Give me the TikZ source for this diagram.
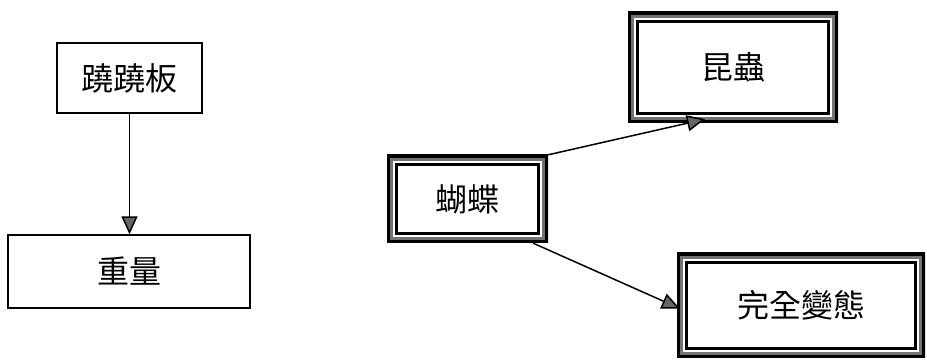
\documentclass[tikz,border=0pt]{standalone}
\usepackage{fontspec}
\newfontfamily\cjk{Noto Sans CJK TC}
\usetikzlibrary{arrows.meta}
\tikzset{
  lbl/.style={inner sep=0pt, font=\cjk\fontsize{32}{32}\selectfont},
  plainbox/.style={lbl, draw=black, line width=1.4pt},
  framebox/.style={lbl, path picture={
      \draw[black, line width=6pt] (path picture bounding box.north west) rectangle (path picture bounding box.south east);
      \draw[black!55, line width=3pt] ([shift={(4.5pt,-4.5pt)}]path picture bounding box.north west) rectangle ([shift={(-4.5pt,4.5pt)}]path picture bounding box.south east);
      \draw[black, line width=2.8pt] ([shift={(9.6pt,-9.6pt)}]path picture bounding box.north west) rectangle ([shift={(-9.6pt,9.6pt)}]path picture bounding box.south east);
  }},
  conn/.style={draw=black, line width=1.5pt, -{Triangle[length=18pt,width=16pt,fill=black!60]}},
}
\begin{document}
\begin{tikzpicture}[x=1pt,y=-1pt]
\useasboundingbox (0,0) rectangle (927,363);
\node[plainbox, minimum width=145pt, minimum height=70pt] (see) at (129.5,78) {蹺蹺板};
\node[plainbox, minimum width=242pt, minimum height=73pt] (weight) at (129,271.5) {重量};
\node[framebox, minimum width=161pt, minimum height=88pt] (bfly) at (467.5,199) {蝴蝶};
\node[framebox, minimum width=210pt, minimum height=111pt] (insect) at (733,67.5) {昆蟲};
\node[framebox, minimum width=248pt, minimum height=105pt] (meta) at (801,305.5) {完全變態};
\draw[conn] (see.south) -- (see.south |- weight.north);
\draw[conn] (bfly.north east) -- ([xshift=-28pt,yshift=4pt]insect.south);
\draw[conn] ([xshift=-15pt]bfly.south east) -- ([xshift=3pt,yshift=-3pt]meta.west);
\end{tikzpicture}
\end{document}
